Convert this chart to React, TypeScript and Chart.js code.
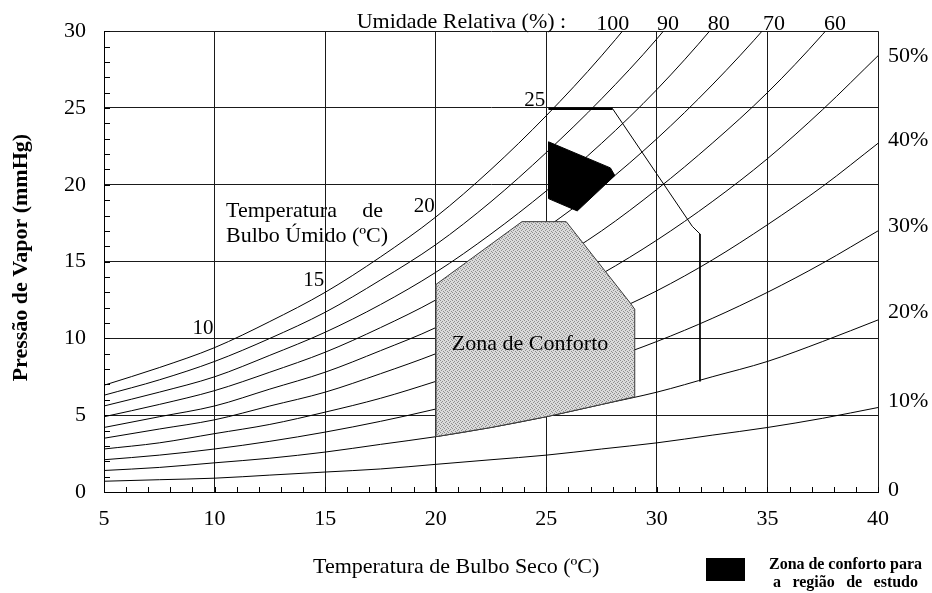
import React, { useEffect, useRef } from 'react';
import { Chart, registerables } from 'chart.js';

Chart.register(...registerables);

// Dry-bulb temperatures (°C) at which the relative-humidity curves were read
const temps = [5, 7.5, 10, 12.5, 15, 17.5, 20, 22.5, 25, 27.5, 30, 32.5, 35, 37.5, 40];

// Vapour pressure (mmHg)
const rh100 = [6.95, 8.1, 9.4, 11.1, 13.0, 15.3, 17.9, 21.0, 24.5, 28.4, 32.8, 37.8, 43.4, 49.7, 56.8];
const rh90 = [6.3, 7.3, 8.5, 10.0, 11.7, 13.8, 16.1, 18.9, 22.1, 25.6, 29.5, 34.0, 39.1, 44.7, 51.1];
const rh80 = [5.6, 6.5, 7.5, 8.9, 10.4, 12.2, 14.3, 16.8, 19.6, 22.7, 26.2, 30.2, 34.7, 39.8, 45.4];
const rh70 = [4.9, 5.7, 6.6, 7.8, 9.1, 10.7, 12.5, 14.7, 17.2, 19.9, 23.0, 26.5, 30.4, 34.8, 39.8];
const rh60 = [4.2, 4.9, 5.6, 6.7, 7.8, 9.2, 10.7, 12.6, 14.7, 17.0, 19.7, 22.7, 26.0, 29.8, 34.1];
const rh50 = [3.5, 4.1, 4.7, 5.6, 6.5, 7.7, 9.0, 10.5, 12.3, 14.2, 16.4, 18.9, 21.7, 24.9, 28.4];
const rh40 = [2.8, 3.2, 3.8, 4.4, 5.2, 6.1, 7.2, 8.4, 9.8, 11.4, 13.1, 15.1, 17.4, 19.9, 22.7];
const rh30 = [2.1, 2.4, 2.8, 3.3, 3.9, 4.6, 5.4, 6.3, 7.4, 8.5, 9.8, 11.3, 13.0, 14.9, 17.0];
const rh20 = [1.4, 1.6, 1.9, 2.2, 2.6, 3.1, 3.6, 4.2, 4.9, 5.7, 6.5, 7.5, 8.5, 9.8, 11.2];
const rh10 = [0.7, 0.8, 0.9, 1.1, 1.3, 1.5, 1.8, 2.1, 2.4, 2.8, 3.2, 3.7, 4.2, 4.8, 5.5];
const rhLevels = ['100', '90', '80', '70', '60', '50', '40', '30', '20', '10'];

// Comfort zone polygon (grey)
const comfortX = [20, 22.5, 25, 27.5, 29, 29, 28.8, 25.9, 23.9, 20, 20];
const comfortY = [3.6, 4.2, 4.9, 5.7, 6.2, 11.9, 12.3, 17.6, 17.6, 13.5, 3.6];

// Comfort zone for the studied region (black)
const studyX = [25.1, 27.9, 28.1, 26.4, 25.1, 25.1];
const studyY = [22.8, 21.1, 20.6, 18.3, 19.1, 22.8];

// Outer limit line
const limitX = [25.1, 28.0, 31.6, 31.95, 31.95];
const limitY = [24.95, 24.95, 17.3, 16.8, 7.2];

// Axis ticks
const xTicks = [5, 10, 15, 20, 25, 30, 35, 40];
const yTicks = [0, 5, 10, 15, 20, 25, 30];

// Top RH labels (where curves leave the top edge)
const topLabels = ['100', '90', '80', '70', '60'];
const topLabelX = [28.0, 30.5, 32.8, 35.3, 38.05];

// Right-hand RH labels
const rightLabels = ['50%', '40%', '30%', '20%', '10%', '0'];
const rightLabelY = [28.4, 22.9, 17.3, 11.7, 5.9, 0.1];

// Wet-bulb temperature labels on the saturation curve
const wetLabels = ['10', '15', '20', '25'];
const wetLabelX = [10, 15, 20, 25];
const wetLabelY = [10.3, 13.4, 18.2, 25.1];

const SERIF = "'Liberation Serif', 'Times New Roman', Times, serif";

function makePattern(): CanvasPattern | string {
  const c = document.createElement('canvas');
  c.width = 4;
  c.height = 4;
  const g = c.getContext('2d');
  if (!g) return '#c6c6c6';
  g.fillStyle = '#dadada';
  g.fillRect(0, 0, 4, 4);
  g.fillStyle = '#8e8e8e';
  g.fillRect(0, 0, 1, 1);
  g.fillRect(2, 1, 1, 1);
  g.fillRect(1, 2, 1, 1);
  g.fillRect(3, 3, 1, 1);
  return g.createPattern(c, 'repeat') || '#c6c6c6';
}

function zip(xs: number[], ys: number[]) {
  return xs.map((x, i) => ({ x, y: ys[i] }));
}

function drawJustified(ctx: CanvasRenderingContext2D, words: string[], left: number, right: number, y: number) {
  const widths = words.map((w) => ctx.measureText(w).width);
  const total = widths.reduce((a, b) => a + b, 0);
  const gap = (right - left - total) / (words.length - 1);
  let x = left;
  ctx.textAlign = 'left';
  words.forEach((w, i) => {
    ctx.fillText(w, x, y);
    x += widths[i] + gap;
  });
}

const annotations = {
  id: 'annotations',
  afterDraw(chart: any) {
    const ctx: CanvasRenderingContext2D = chart.ctx;
    const xs = chart.scales.x;
    const ys = chart.scales.y;
    const area = chart.chartArea;
    ctx.save();
    ctx.fillStyle = '#000';
    ctx.strokeStyle = '#000';

    // minor ticks (inside)
    ctx.lineWidth = 1;
    ctx.beginPath();
    for (let v = Math.ceil(xs.min); v <= xs.max; v++) {
      const px = Math.round(xs.getPixelForValue(v)) + 0.5;
      ctx.moveTo(px, area.bottom);
      ctx.lineTo(px, area.bottom - 5);
    }
    for (let v = Math.ceil(ys.min); v <= ys.max; v++) {
      const py = Math.round(ys.getPixelForValue(v)) + 0.5;
      ctx.moveTo(area.left, py);
      ctx.lineTo(area.left + 6, py);
    }
    ctx.stroke();

    // wet-bulb labels
    ctx.font = `21px ${SERIF}`;
    ctx.textAlign = 'right';
    ctx.textBaseline = 'alphabetic';
    wetLabels.forEach((t, i) => {
      ctx.fillText(t, xs.getPixelForValue(wetLabelX[i]) - 1, ys.getPixelForValue(wetLabelY[i]));
    });

    // "Temperatura de Bulbo Úmido (ºC)"
    ctx.font = `22px ${SERIF}`;
    ctx.textAlign = 'left';
    const tx = xs.getPixelForValue(10.52);
    ctx.fillText('Temperatura', tx, ys.getPixelForValue(17.9));
    ctx.textAlign = 'right';
    ctx.fillText('de', xs.getPixelForValue(17.62), ys.getPixelForValue(17.9));
    ctx.textAlign = 'left';
    ctx.fillText('Bulbo Úmido (ºC)', tx, ys.getPixelForValue(16.25));

    // "Zona de Conforto"
    ctx.fillText('Zona de Conforto', xs.getPixelForValue(20.73), ys.getPixelForValue(9.22));

    // top RH labels
    ctx.textAlign = 'center';
    topLabels.forEach((t, i) => {
      ctx.fillText(t, xs.getPixelForValue(topLabelX[i]), area.top - 1);
    });
    ctx.textAlign = 'right';
    ctx.fillText('Umidade Relativa (%) :', xs.getPixelForValue(25.9), area.top - 3);

    // right labels
    ctx.textAlign = 'left';
    ctx.textBaseline = 'middle';
    rightLabels.forEach((t, i) => {
      ctx.fillText(t, area.right + 10, ys.getPixelForValue(rightLabelY[i]));
    });

    // axis titles
    ctx.textBaseline = 'alphabetic';
    ctx.textAlign = 'left';
    ctx.fillText('Temperatura de Bulbo Seco (ºC)', 313, 573);
    ctx.save();
    ctx.translate(27, (area.top + area.bottom) / 2 - 4);
    ctx.rotate(-Math.PI / 2);
    ctx.textAlign = 'center';
    ctx.font = `bold 22px ${SERIF}`;
    ctx.fillText('Pressão de Vapor (mmHg)', 0, 0);
    ctx.restore();

    // legend
    ctx.fillRect(706, 558, 39, 23);
    ctx.font = `bold 16px ${SERIF}`;
    drawJustified(ctx, ['Zona', 'de', 'conforto', 'para'], 769, 922, 569);
    drawJustified(ctx, ['a', 'região', 'de', 'estudo'], 773, 918, 587);

    ctx.restore();
  },
};

export default function App() {
  const ref = useRef<HTMLCanvasElement>(null);

  useEffect(() => {
    const canvas = ref.current;
    if (!canvas) return;
    const rhSeries = [rh100, rh90, rh80, rh70, rh60, rh50, rh40, rh30, rh20, rh10];
    const datasets: any[] = rhSeries.map((vals, i) => ({
      label: `UR ${rhLevels[i]}%`,
      data: zip(temps, vals),
      showLine: true,
      borderColor: '#000',
      borderWidth: 1,
      pointRadius: 0,
      cubicInterpolationMode: 'monotone',
      fill: false,
      order: 5,
    }));
    datasets.push({
      label: 'Zona de Conforto',
      data: zip(comfortX, comfortY),
      showLine: true,
      borderColor: '#3a3a3a',
      borderWidth: 1,
      backgroundColor: makePattern(),
      pointRadius: 0,
      tension: 0,
      fill: 'shape',
      order: 4,
    });
    datasets.push({
      label: 'Zona de conforto para a região de estudo',
      data: zip(studyX, studyY),
      showLine: true,
      borderColor: '#000',
      borderWidth: 1,
      backgroundColor: '#000',
      pointRadius: 0,
      tension: 0,
      fill: 'shape',
      order: 3,
    });
    datasets.push({
      label: 'Limite',
      data: zip(limitX, limitY),
      showLine: true,
      borderColor: '#000',
      borderWidth: 1,
      pointRadius: 0,
      tension: 0,
      fill: false,
      order: 2,
    });
    datasets.push({
      label: 'Limite superior',
      data: zip(limitX.slice(0, 2), limitY.slice(0, 2)),
      showLine: true,
      borderColor: '#000',
      borderWidth: 2.5,
      pointRadius: 0,
      fill: false,
      order: 1,
    });

    const chart = new Chart(canvas, {
      type: 'scatter',
      data: { datasets },
      options: {
        animation: false,
        responsive: false,
        devicePixelRatio: 1,
        layout: { padding: { top: 30, right: 54, left: 0, bottom: 0 } },
        plugins: { legend: { display: false }, tooltip: { enabled: false } },
        scales: {
          x: {
            type: 'linear',
            min: xTicks[0],
            max: xTicks[xTicks.length - 1],
            afterFit: (s: any) => { s.height = 101; },
            afterBuildTicks: (s: any) => { s.ticks = xTicks.map((v) => ({ value: v })); },
            ticks: { color: '#000', font: { family: SERIF, size: 22 }, padding: 14, maxRotation: 0 },
            grid: { color: '#1a1a1a', lineWidth: 1, drawTicks: false },
            border: { display: true, color: '#000', width: 1 },
          },
          y: {
            type: 'linear',
            min: yTicks[0],
            max: yTicks[yTicks.length - 1],
            afterFit: (s: any) => { s.width = 104; },
            afterBuildTicks: (s: any) => { s.ticks = yTicks.map((v) => ({ value: v })); },
            ticks: { color: '#000', font: { family: SERIF, size: 22 }, padding: 18 },
            grid: { color: '#1a1a1a', lineWidth: 1, drawTicks: false },
            border: { display: true, color: '#000', width: 1 },
          },
        },
      },
      plugins: [annotations],
    } as any);
    return () => chart.destroy();
  }, []);

  return (
    <div style={{ position: 'fixed', left: 0, top: 0, width: 932, height: 593, background: '#fff' }}>
      <canvas ref={ref} width={932} height={593} style={{ display: 'block', width: 932, height: 593 }} />
    </div>
  );
}
